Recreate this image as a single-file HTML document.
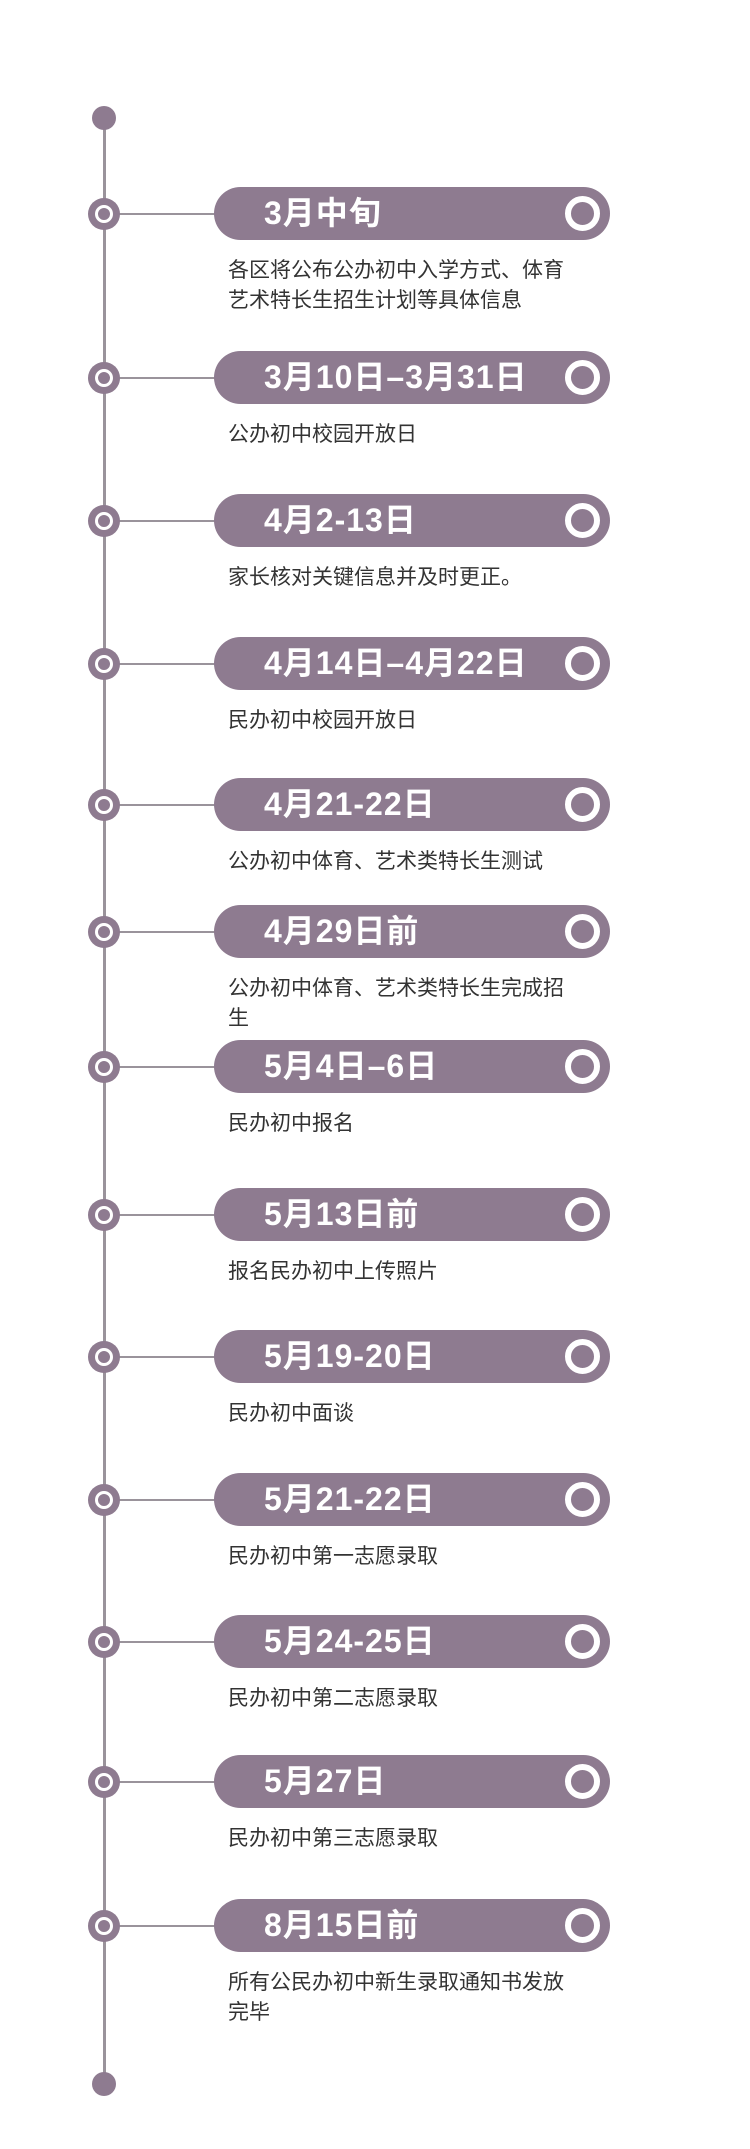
<!DOCTYPE html>
<html><head><meta charset="utf-8"><style>
body{margin:0;width:750px;height:2149px;background:#fff;position:relative;overflow:hidden;font-family:"Liberation Sans","Noto Sans CJK SC",sans-serif}
.vl{position:absolute;left:103px;top:118px;width:3px;height:1966px;background:#9a939b}
.dot{position:absolute;width:24px;height:24px;border-radius:50%;background:#8e7b90;left:92px}
.b{position:absolute;left:88px;width:32px;height:32px;border-radius:50%;background:#8e7b90}
.b::after{content:"";position:absolute;left:7px;top:7px;width:12px;height:12px;border-radius:50%;border:3px solid #fff;background:#8e7b90}
.c{position:absolute;left:118px;width:98px;height:2px;background:#9a939b}
.p{position:absolute;left:214px;width:396px;height:53px;border-radius:27px;background:#8e7b90;color:#fff;font-size:32px;font-weight:bold;letter-spacing:1px;line-height:53px;box-sizing:border-box;padding-left:50px}
.p::after{content:"";position:absolute;right:10px;top:9px;width:23px;height:23px;border-radius:50%;border:6px solid #fff}
.d{position:absolute;left:228px;font-size:21px;line-height:30px;color:#333;width:380px}
</style></head><body>
<div class="vl"></div>
<div class="dot" style="top:106px"></div>
<div class="dot" style="top:2072px"></div>
<script>
var items=[[214,"3月中旬","各区将公布公办初中入学方式、体育<br>艺术特长生招生计划等具体信息"],
[378,"3月10日–3月31日","公办初中校园开放日"],
[521,"4月2-13日","家长核对关键信息并及时更正。"],
[664,"4月14日–4月22日","民办初中校园开放日"],
[805,"4月21-22日","公办初中体育、艺术类特长生测试"],
[932,"4月29日前","公办初中体育、艺术类特长生完成招<br>生"],
[1067,"5月4日–6日","民办初中报名"],
[1215,"5月13日前","报名民办初中上传照片"],
[1357,"5月19-20日","民办初中面谈"],
[1500,"5月21-22日","民办初中第一志愿录取"],
[1642,"5月24-25日","民办初中第二志愿录取"],
[1782,"5月27日","民办初中第三志愿录取"],
[1926,"8月15日前","所有公民办初中新生录取通知书发放<br>完毕"]];
var h="";
items.forEach(function(i){var y=i[0];
h+='<div class="c" style="top:'+(y-1)+'px"></div><div class="b" style="top:'+(y-16)+'px"></div>';
h+='<div class="p" style="top:'+(y-27)+'px">'+i[1]+'</div>';
h+='<div class="d" style="top:'+(y+42)+'px">'+i[2]+'</div>';});
document.write(h);
</script>
</body></html>
